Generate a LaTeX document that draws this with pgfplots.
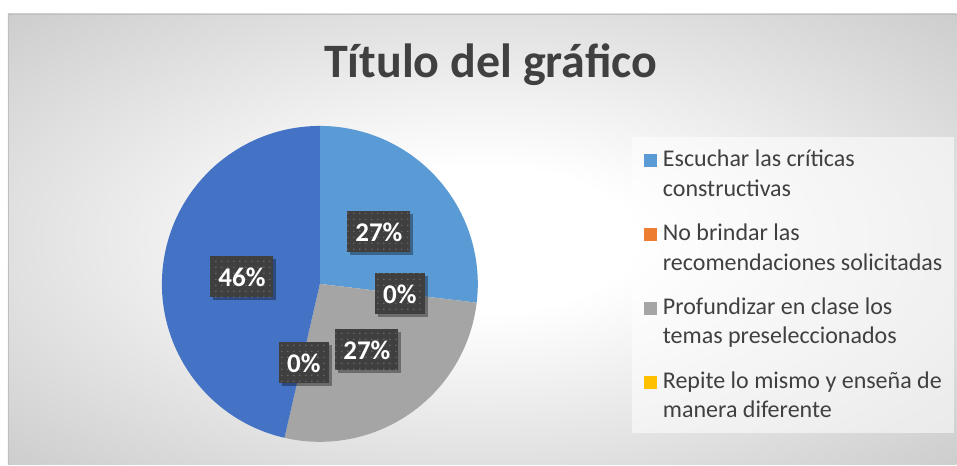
\documentclass[border=0pt]{standalone}
\usepackage{pgfplots}
\pgfplotsset{compat=1.18}
\usepackage{fontspec}
\setmainfont{Carlito}
\usetikzlibrary{shadows,patterns.meta}

\definecolor{sliceA}{HTML}{5B9BD5}
\definecolor{sliceB}{HTML}{ED7D31}
\definecolor{sliceC}{HTML}{A5A5A5}
\definecolor{sliceD}{HTML}{FFC000}
\definecolor{sliceE}{HTML}{4472C4}
\definecolor{txt}{HTML}{404040}
\definecolor{lblbox}{HTML}{3F3F3F}

\pgfdeclareradialshading{bgshade}{\pgfpoint{0bp}{0bp}}{%
  color(0bp)=(white); color(8bp)=(white); color(36bp)=(black!20); color(50bp)=(black!24)}

% slice values (%), clockwise from 12 o'clock
\def\vA{26.9}\def\vB{0}\def\vC{26.7}\def\vD{0}\def\vE{46.4}
\pgfmathsetmacro\aA{90}
\pgfmathsetmacro\aB{\aA-3.6*\vA}
\pgfmathsetmacro\aC{\aB-3.6*\vB}
\pgfmathsetmacro\aD{\aC-3.6*\vC}
\pgfmathsetmacro\aE{\aD-3.6*\vD}
\pgfmathsetmacro\aF{\aE-3.6*\vE}

\tikzset{
  pielbl/.style={fill=lblbox, text=white, font=\fontsize{27}{31}\selectfont\bfseries,
    inner xsep=8pt, minimum height=41pt,
    drop shadow={shadow xshift=3pt, shadow yshift=-3pt, opacity=0.35, fill=black},
    postaction={pattern={Dots[distance=6pt, radius=0.7pt]}, pattern color=black!55}},
  legtxt/.style={anchor=base west, text=txt, font=\fontsize{24}{29}\selectfont, inner sep=0pt},
}

\begin{document}
\begin{tikzpicture}
\begin{axis}[
  width=957pt, height=465pt, scale only axis,
  xmin=0, xmax=957, ymin=0, ymax=465,
  hide axis, clip=false,
]
% page and chart area background
\fill[white] (0,0) rectangle (957,465);
\shade[shading=bgshade] (8,0) rectangle (957,451);
\draw[black!25, line width=0.8pt] (8,0) -- (8,451) -- (957,451);

% title
\node[anchor=base, text=txt, font=\fontsize{48}{58}\selectfont\bfseries, inner sep=0pt]
  at (491,387) {Título del gráfico};

% pie (centre 320,181; radius 158)
\fill[sliceA] (320,181) -- ++(\aA:158pt) arc[start angle=\aA, end angle=\aB, radius=158pt] -- cycle;
\fill[sliceC] (320,181) -- ++(\aC:158pt) arc[start angle=\aC, end angle=\aD, radius=158pt] -- cycle;
\fill[sliceE] (320,181) -- ++(\aE:158pt) arc[start angle=\aE, end angle=\aF, radius=158pt] -- cycle;

% data labels
\node[pielbl] at (379,233) {27\%};
\node[pielbl] at (400,171) {0\%};
\node[pielbl] at (367,115) {27\%};
\node[pielbl] at (304,102) {0\%};
\node[pielbl] at (242,188) {46\%};

% legend
\fill[white, opacity=0.55] (632,32) rectangle (954,328);
\fill[sliceA] (644,298) rectangle (657,311);
\node[legtxt] at (663,298) {Escuchar las críticas};
\node[legtxt] at (663,268) {constructivas};
\fill[sliceB] (644,224) rectangle (657,237);
\node[legtxt] at (663,224) {No brindar las};
\node[legtxt] at (663,194) {recomendaciones solicitadas};
\fill[sliceC] (644,150) rectangle (657,163);
\node[legtxt] at (663,150) {Profundizar en clase los};
\node[legtxt] at (663,121) {temas preseleccionados};
\fill[sliceD] (644,76) rectangle (657,89);
\node[legtxt] at (663,76) {Repite lo mismo y enseña de};
\node[legtxt] at (663,47) {manera diferente};
\end{axis}
\end{tikzpicture}
\end{document}
